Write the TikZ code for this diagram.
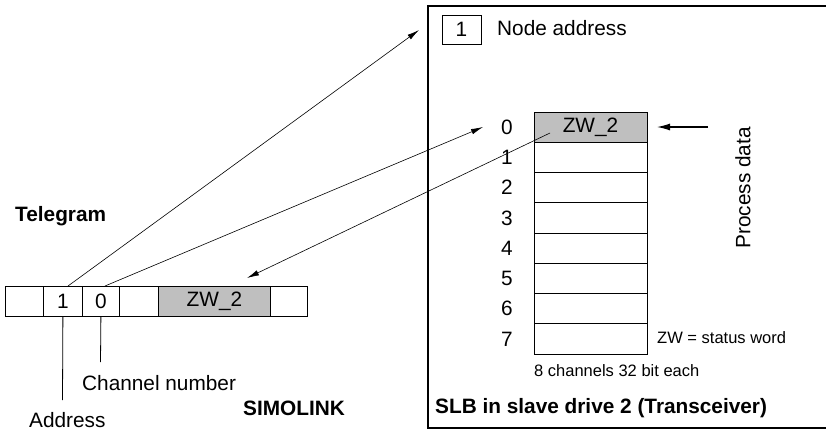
\documentclass[tikz,border=0pt]{standalone}
\usepackage{fontspec}
\setmainfont{Liberation Sans}
\usetikzlibrary{arrows.meta,calc}
\begin{document}
\begin{tikzpicture}[x=1pt,y=-1pt,
  every node/.style={font=\fontsize{20.8}{24}\selectfont, inner sep=0pt},
  cell/.style={draw, line width=0.8pt, minimum height=30pt, anchor=north west},
  chan/.style={draw, line width=0.8pt, minimum width=113pt, minimum height=30.25pt},
  lbl/.style={font=\fontsize{20.8}{24}\selectfont},
  small/.style={font=\fontsize{16.5}{19}\selectfont},
  bold/.style={font=\fontsize{20.8}{24}\selectfont\bfseries},
  arr/.style={line width=0.6pt, -{Latex[length=12pt,width=5.5pt]}},
  plain/.style={line width=0.8pt}
]
\useasboundingbox (0,0) rectangle (826,432);
\begin{scope}
\clip (0,0) rectangle (826,432);
% big slave box
\draw[line width=1.6pt] (428,6) rectangle (840,428);
\end{scope}

% node address box
\node[draw, line width=0.8pt, minimum width=39pt, minimum height=29pt] (addr) at (461.5,29.5) {1};
\node[anchor=west] (nodeaddr) at (497,28) {Node address};

% channels
\foreach \i in {0,...,7}{
  \node[chan, fill=white] (c\i) at (590.5,{112+30.25*(\i+0.5)}) {};
  \node (n\i) at (507,{112+30.25*(\i+0.5)}) {\i};
}
\node[chan, fill=black!25] (c0) at (590.5,{112+30.25*0.5}) {ZW\_2};

\node[rotate=90] (pd) at (743,188) {Process data};
\node[small, anchor=west] (zw) at (657,338) {ZW = status word};
\node[small, anchor=west] (eight) at (534,371) {8 channels 32 bit each};
\node[bold, anchor=west] (slb) at (435,408) {SLB in slave drive 2 (Transceiver)};

% telegram
\node[bold, anchor=west] (tel) at (15,216) {Telegram};
\node[cell, minimum width=38pt] (ta) at (5,286) {};
\node[cell, minimum width=39pt] (t1) at (43,286) {1};
\node[cell, minimum width=37pt] (t0) at (82,286) {0};
\node[cell, minimum width=39pt] (tb) at (119,286) {};
\node[cell, minimum width=112pt, fill=black!25] (tz) at (158,286) {ZW\_2};
\node[cell, minimum width=37pt] (tc) at (270,286) {};

\node[bold] (simo) at (294,408) {SIMOLINK};

% labels below telegram
\coordinate (aend) at (62.5,400);
\coordinate (cend) at (100.5,362);
\draw[plain] (t1.south) -- (aend);
\draw[plain] (t0.south) -- (cend);
\node[anchor=west] (address) at (29,420) {Address};
\node[anchor=west] (chnum) at (82,383) {Channel number};

% arrows
\coordinate (a1s) at (68,286);
\coordinate (a1e) at (419,30);
\coordinate (a2s) at (105,286);
\coordinate (a2e) at (483,127);
\coordinate (a3s) at (550,133);
\coordinate (a3e) at (247,278);
\coordinate (a4s) at (708,127);
\coordinate (a4e) at (657,127);
\draw[arr] (a1s) -- (a1e);
\draw[arr] (a2s) -- (a2e);
\draw[arr] (a3s) -- (a3e);
\draw[line width=1.2pt, -{Latex[length=13pt,width=7pt]}] (a4s) -- (a4e);
\end{tikzpicture}
\end{document}
